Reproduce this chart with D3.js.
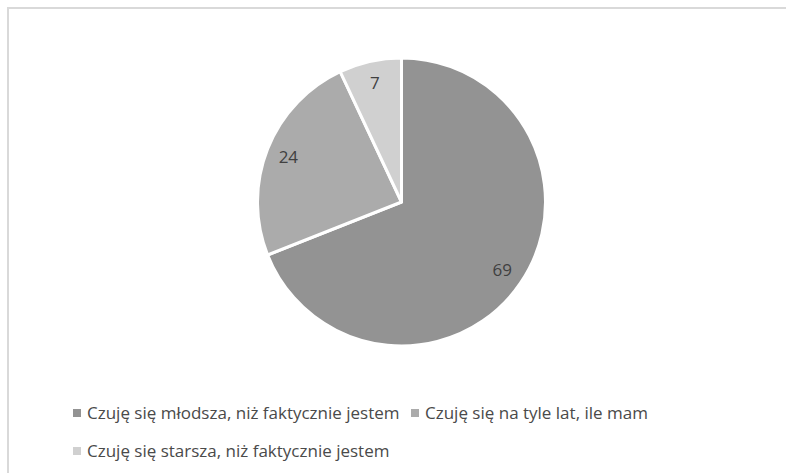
<!DOCTYPE html>
<html>
<head>
<meta charset="utf-8">
<script src="https://cdn.jsdelivr.net/npm/d3@7"></script>
<style>
  body { margin: 0; background: #fff; }
  svg text { font-family: "Open Sans", "Noto Sans", sans-serif; }
</style>
</head>
<body>
<div id="chart-area"></div>
<script>
// data
const categories = [
    "Czuję się młodsza, niż faktycznie jestem",
    "Czuję się na tyle lat, ile mam",
    "Czuję się starsza, niż faktycznie jestem"
];
const values = [69, 24, 7];
const colors = ["#939393", "#ababab", "#d0d0d0"];

const width = 786;
const height = 473;

const svg = d3.select("#chart-area")
    .append("svg")
    .attr("width", width)
    .attr("height", height);

// chart frame (only top and left visible in the picture)
svg.append("rect")
    .attr("x", 8)
    .attr("y", 8)
    .attr("width", width + 10)
    .attr("height", height + 10)
    .attr("fill", "none")
    .attr("stroke", "#d9d9d9")
    .attr("stroke-width", 2);

const cx = 401.5, cy = 202, radius = 144;

const color = d3.scaleOrdinal()
    .domain(categories)
    .range(colors);

const pie = d3.pie()
    .sort(null)
    .value(d => d.value);

const pieData = pie(categories.map((c, i) => ({ name: c, value: values[i] })));

const arc = d3.arc()
    .innerRadius(0)
    .outerRadius(radius);

const labelArc = d3.arc()
    .innerRadius(radius * 0.845)
    .outerRadius(radius * 0.845);

const g = svg.append("g")
    .attr("transform", "translate(" + cx + "," + cy + ")");

g.selectAll("path")
    .data(pieData)
    .join("path")
    .attr("d", arc)
    .attr("fill", d => color(d.data.name))
    .attr("stroke", "#fff")
    .attr("stroke-width", 3)
    .attr("stroke-linejoin", "round");

g.selectAll("text")
    .data(pieData)
    .join("text")
    .attr("transform", d => {
        const p = labelArc.centroid(d);
        return "translate(" + p[0] + "," + p[1] + ")";
    })
    .attr("text-anchor", "middle")
    .attr("dy", "0.35em")
    .attr("font-size", 17)
    .attr("fill", "#404040")
    .text(d => d.data.value);

// legend
const legendPos = [
    { x: 73, y: 413 },
    { x: 411, y: 413 },
    { x: 73, y: 451 }
];

const legend = svg.selectAll(".legend")
    .data(categories)
    .join("g")
    .attr("class", "legend")
    .attr("transform", (d, i) => "translate(" + legendPos[i].x + "," + legendPos[i].y + ")");

legend.append("rect")
    .attr("x", 0)
    .attr("y", -4)
    .attr("width", 8)
    .attr("height", 8)
    .attr("fill", d => color(d));

legend.append("text")
    .attr("x", 14)
    .attr("dy", "0.35em")
    .attr("font-size", 17)
    .attr("fill", "#4a4a4a")
    .text(d => d);
</script>
</body>
</html>
